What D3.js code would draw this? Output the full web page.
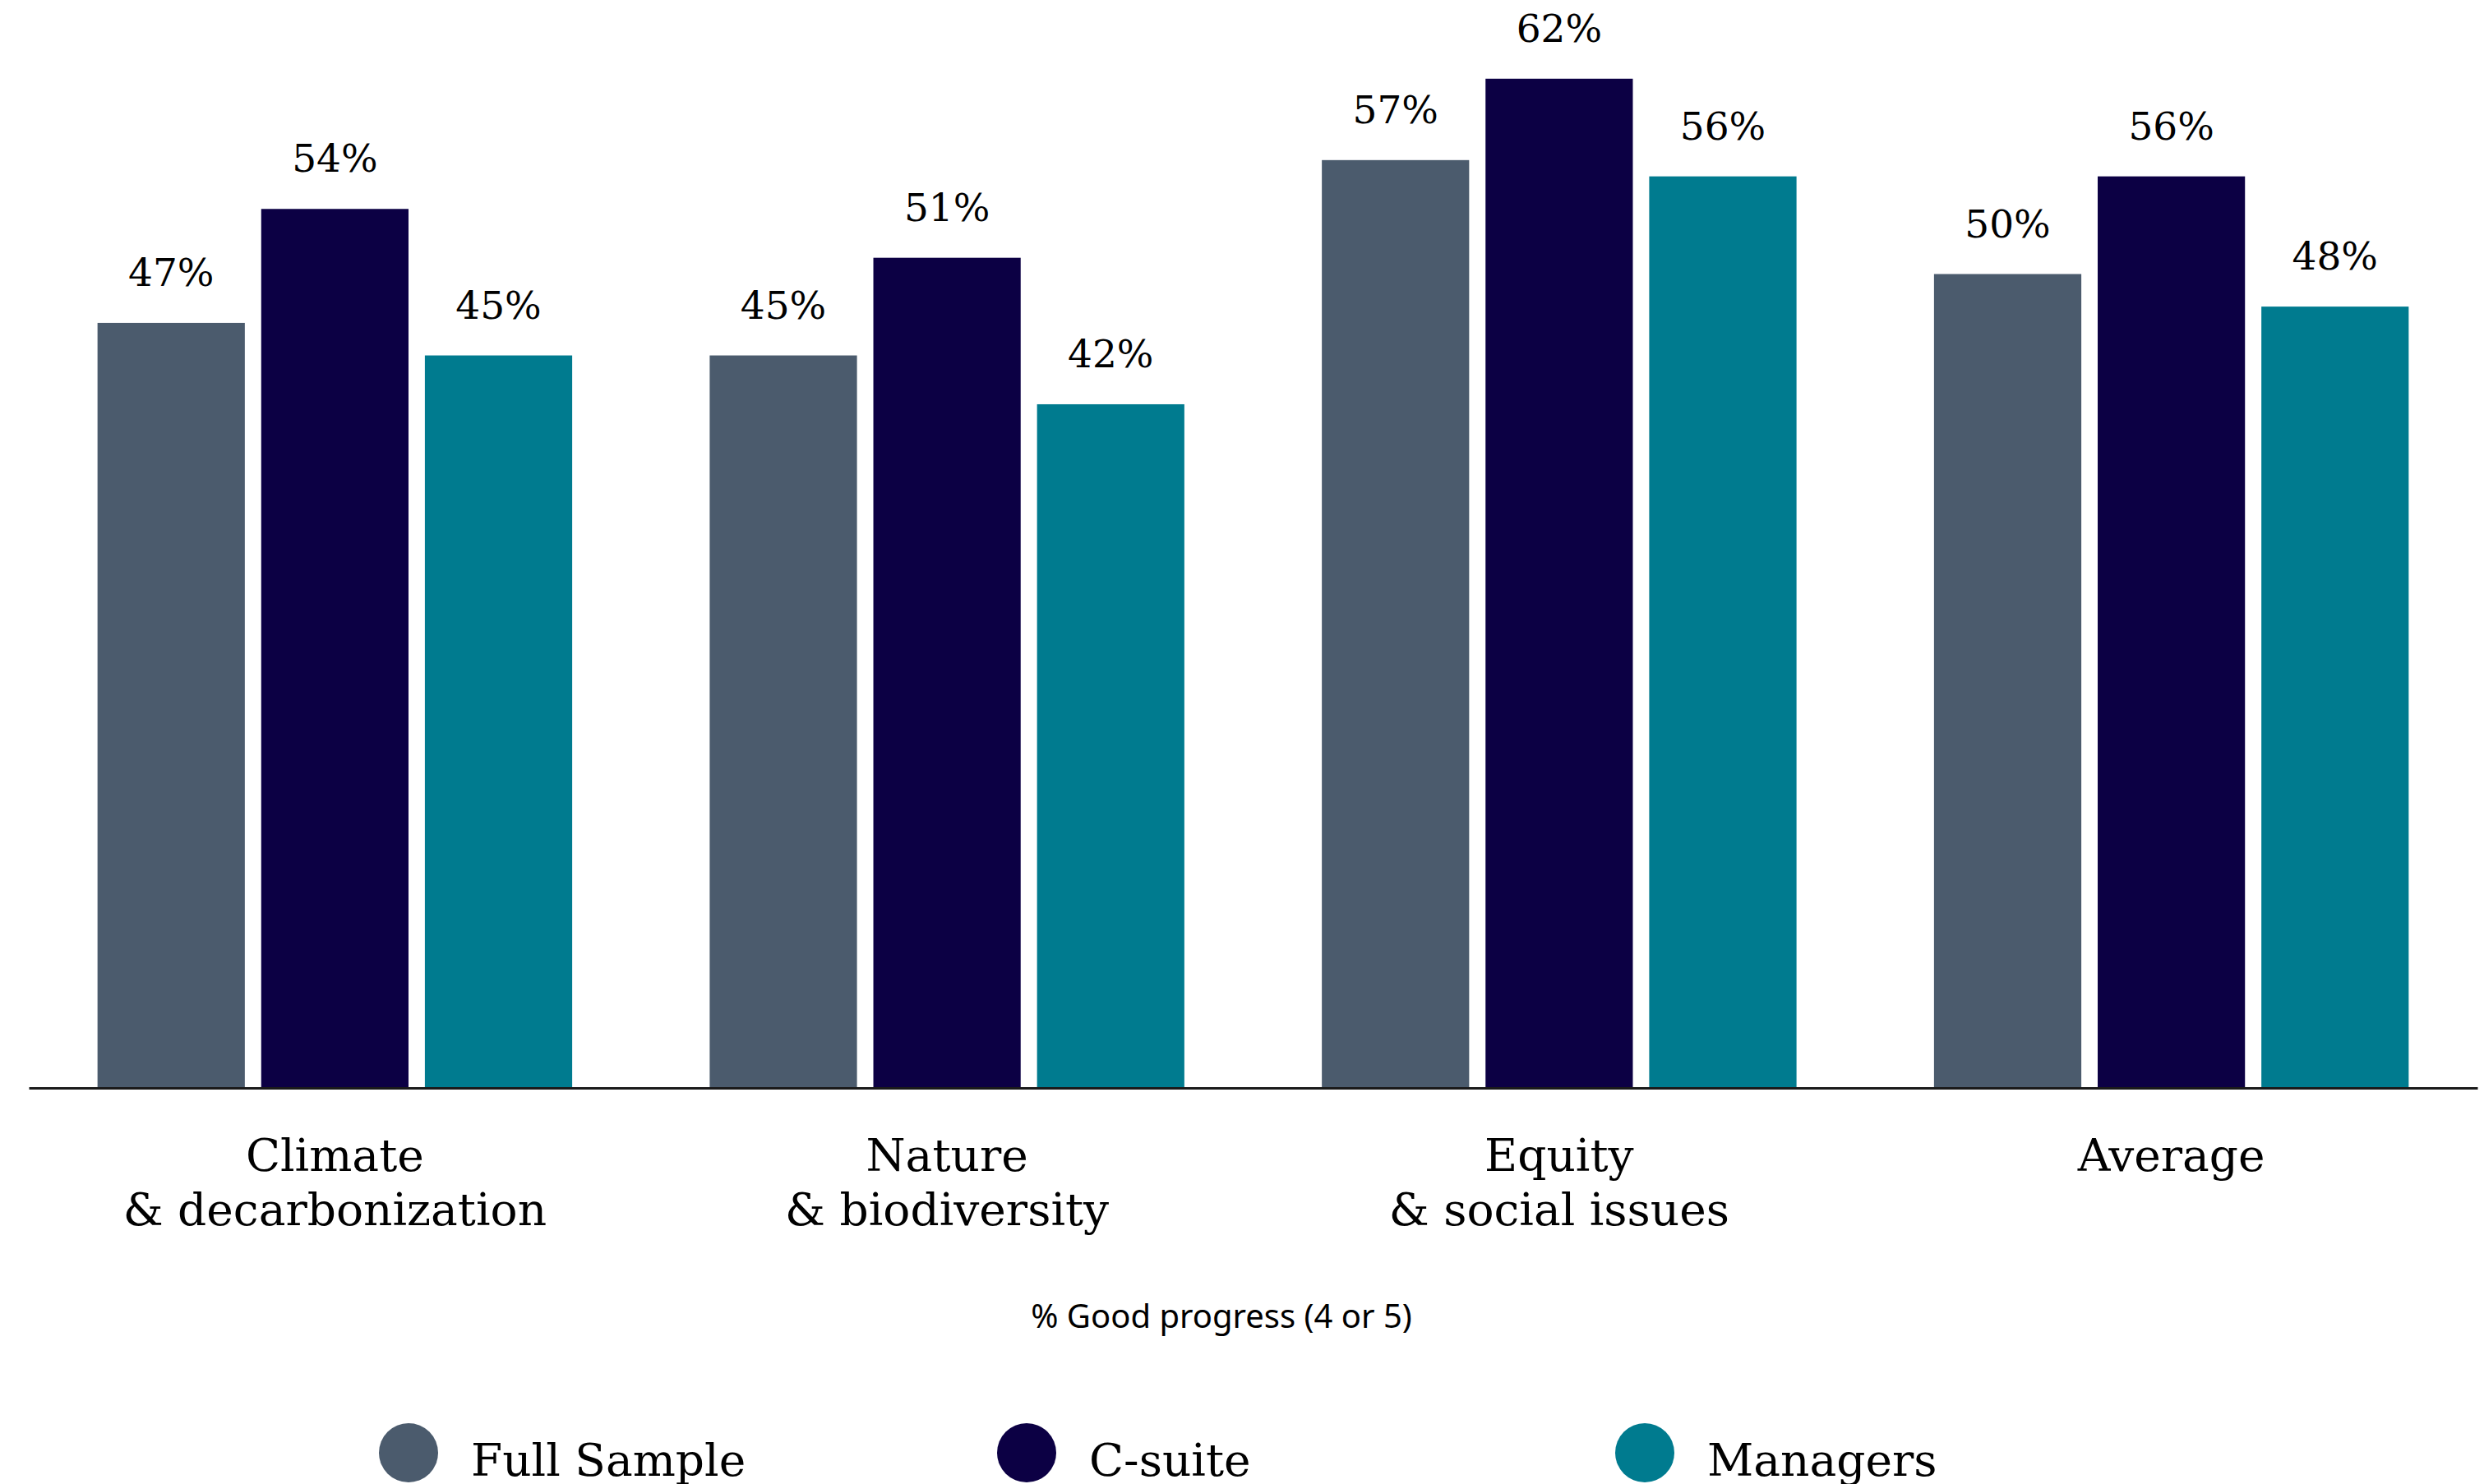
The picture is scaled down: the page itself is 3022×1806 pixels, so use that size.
<!DOCTYPE html>
<html>
<head>
<meta charset="utf-8">
<script src="https://cdn.jsdelivr.net/npm/d3@7"></script>
<style>
  body { margin: 0; background: #fff; }
  svg { display: block; }
</style>
</head>
<body>
<div id="chart"></div>
<script>
var categories = [["Climate", "& decarbonization"], ["Nature", "& biodiversity"], ["Equity", "& social issues"], ["Average"]]
var seriesNames = ["Full Sample", "C-suite", "Managers"]
var fullSample = [47, 45, 57, 50]
var cSuite = [54, 51, 62, 56]
var managers = [45, 42, 56, 48]
var seriesColors = ["#4b5b6d", "#0c0044", "#007b8f"]
var subtitle = "% Good progress (4 or 5)"

var width = 3022
var height = 1806
var baseline = 1324

var svg = d3.select("#chart").append("svg")
    .attr("width", width)
    .attr("height", height)

svg.append("rect")
    .attr("width", width)
    .attr("height", height)
    .attr("fill", "#fff")

var catKeys = categories.map(function (c) { return c.join(" ") })
var values = [fullSample, cSuite, managers]

var x0 = d3.scaleBand()
    .domain(catKeys)
    .range([35, 3014])
    .padding(0)

var x1 = d3.scaleBand()
    .domain(seriesNames)
    .range([0, x0.bandwidth()])
    .paddingInner(0.1)
    .paddingOuter(0.42)

var y = d3.scaleLinear()
    .domain([0, 100])
    .range([baseline, baseline - 1981])

var color = d3.scaleOrdinal().domain(seriesNames).range(seriesColors)

// flatten into one row per bar
var bars = []
catKeys.forEach(function (cat, i) {
    seriesNames.forEach(function (s, j) {
        bars.push({ cat: cat, series: s, value: values[j][i] })
    })
})

svg.selectAll("rect.bar")
    .data(bars)
    .enter()
    .append("rect")
    .attr("class", "bar")
    .attr("x", function (d) { return x0(d.cat) + x1(d.series) })
    .attr("y", function (d) { return y(d.value) })
    .attr("width", x1.bandwidth())
    .attr("height", function (d) { return y(0) - y(d.value) })
    .attr("fill", function (d) { return color(d.series) })

svg.selectAll("text.value")
    .data(bars)
    .enter()
    .append("text")
    .attr("class", "value")
    .attr("x", function (d) { return x0(d.cat) + x1(d.series) + x1.bandwidth() / 2 })
    .attr("y", function (d) { return y(d.value) - 45 })
    .attr("text-anchor", "middle")
    .style("font-family", "'DejaVu Serif', serif")
    .style("font-size", "47px")
    .style("fill", "#000")
    .text(function (d) { return d.value + "%" })

// baseline axis
var xAxis = d3.axisBottom(x0).tickSize(0).tickFormat("")
var axisG = svg.append("g")
    .attr("transform", "translate(0," + baseline + ")")
    .call(xAxis)
axisG.select(".domain")
    .attr("stroke", "#1a1a1a")
    .attr("stroke-width", 3)

// category labels
var catLabels = svg.selectAll("text.cat")
    .data(categories)
    .enter()
    .append("text")
    .attr("class", "cat")
    .attr("text-anchor", "middle")
    .style("font-family", "'DejaVu Serif', serif")
    .style("font-size", "55px")
    .style("fill", "#000")

catLabels.each(function (d, i) {
    var t = d3.select(this)
    var cx = x0(catKeys[i]) + x0.bandwidth() / 2
    d.forEach(function (line, k) {
        t.append("tspan")
            .attr("x", cx)
            .attr("y", 1425 + k * 66)
            .text(line)
    })
})

svg.append("text")
    .attr("x", 1486)
    .attr("y", 1616)
    .attr("text-anchor", "middle")
    .style("font-family", "'Noto Sans', sans-serif")
    .style("font-size", "40px")
    .style("fill", "#000")
    .text(subtitle)

// legend
var legendX = d3.scalePoint().domain(seriesNames).range([497, 2001])

var legend = svg.selectAll("g.legend")
    .data(seriesNames)
    .enter()
    .append("g")
    .attr("class", "legend")
    .attr("transform", function (d) { return "translate(" + legendX(d) + ",1768)" })

legend.append("circle")
    .attr("r", 36)
    .attr("fill", function (d) { return color(d) })

legend.append("text")
    .attr("x", 76)
    .attr("y", 28)
    .style("font-family", "'DejaVu Serif', serif")
    .style("font-size", "55px")
    .style("fill", "#000")
    .text(function (d) { return d })
</script>
</body>
</html>
